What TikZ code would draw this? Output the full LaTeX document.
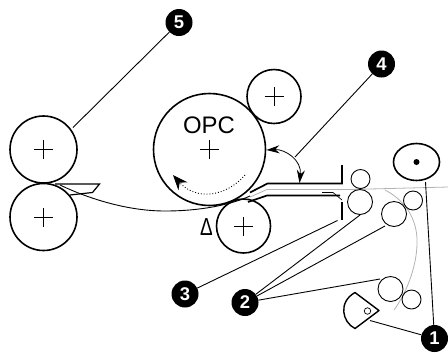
\documentclass[tikz,border=0pt]{standalone}
\usepackage{fontspec}
\setmainfont{Liberation Sans}
\usetikzlibrary{arrows.meta,shapes.geometric}
\tikzset{
  roller/.style={draw, circle, inner sep=0pt, outer sep=0pt, line width=1.6pt},
  idler/.style={draw, circle, inner sep=0pt, outer sep=0pt, line width=0.9pt},
  callout/.style={circle, fill=black, text=white, inner sep=0pt, minimum size=27bp, font=\fontsize{18.5}{18.5}\selectfont\bfseries},
  leader/.style={line width=0.9pt},
  paper/.style={line width=0.8pt, black!30},
  guide/.style={line width=1.7pt}
}
\begin{document}
\begin{tikzpicture}[x=1bp, y=-1bp]
\useasboundingbox (0,0) rectangle (448,352);
% rollers
\node[roller, minimum size=112bp] (opc) at (209.5,149.5) {};
\node[roller, minimum size=54bp] (charge) at (274,96.5) {};
\node[roller, minimum size=54bp] (transfer) at (243.5,226) {};
\node[roller, minimum size=67bp] (fuseup) at (43.5,149.5) {};
\node[roller, minimum size=67bp] (fusedown) at (43.5,217) {};
\node[font=\fontsize{24}{24}\selectfont] (opclabel) at (209,125) {OPC};
\foreach \c in {opc, charge, transfer, fuseup, fusedown}
    \draw[line width=0.8pt] ([xshift=-9.5bp]\c.center) -- ([xshift=9.5bp]\c.center)
        ([yshift=-9.5bp]\c.center) -- ([yshift=9.5bp]\c.center);
\node[yscale=1.3, font=\fontsize{19}{19}\selectfont] (delta) at (206.5,227) {Δ};
% paper path
\draw[paper] (250,197) -- (267,189.5) -- (350,189.5) -- (448,187);
\draw[paper] (385,190) .. controls (410,203) and (418,225) .. (417,245)
    .. controls (416,270) and (405,295) .. (394,310);
\draw[line width=0.9pt] (60,185) .. controls (85,197) and (125,211) .. (165,211)
    .. controls (200,211) and (230,205) .. (250,196);
% guides
\draw[guide] (250,192.5) -- (267.5,183.5) -- (342,183.5) -- (342,165);
\draw[guide] (248,202) -- (267,195.5) -- (340,195.5);
\draw[guide] (342,202) -- (342,220);
\draw[line width=0.7pt] (322,192.5) -- (333,192.5) -- (342,200);
\draw[line width=1.2pt] (55,184) -- (99.5,184) -- (92.5,192.5) -- (70,195);
% feed rollers
\node[idler, minimum size=19bp] (feeda) at (360.5,179) {};
\node[idler, minimum size=25bp] (feedb) at (360,202) {};
\node[idler, minimum size=25bp] (feedc) at (394,214) {};
\node[idler, minimum size=19bp] (feedd) at (413,200.5) {};
\node[idler, minimum size=25bp] (feede) at (390.5,289) {};
\node[idler, minimum size=19bp] (feedf) at (411.5,299.5) {};
% pickup
\node[draw, ellipse, inner sep=0pt, line width=1.6pt, minimum width=46bp, minimum height=37bp] (pickup) at (416.5,162) {};
\fill (pickup.center) circle (3bp);
\draw[line width=1.4pt, line join=round] (355,292.5) -- (379,310.5) -- (355,328.5)
    .. controls (342,322) and (338,302) .. (355,292.5) -- cycle;
\node[idler, minimum size=6.5bp, line width=0.7pt] (cam) at (367.5,311) {};
% rotation and angle
\draw[dotted, line width=0.9pt, -{Stealth[length=15bp, width=12bp]}] (245,175)
    .. controls (225,198) and (195,200) .. (173,175);
\coordinate (angleA) at (266.5,150);
\coordinate (angleB) at (299.5,183);
\draw[line width=0.8pt, {Stealth[length=13bp, width=8bp]}-{Stealth[length=13bp, width=8bp]}] (angleA)
    .. controls (285,149) and (302,160) .. (angleB);
% callouts
\node[callout] (one) at (434.5,338.5) {1};
\node[callout] (two) at (245,302.5) {2};
\node[callout] (three) at (185,294) {3};
\node[callout] (four) at (381.5,64) {4};
\node[callout] (five) at (179,22.5) {5};
\coordinate (endone) at (425.5,182);
\coordinate (endcam) at (370,320.5);
\coordinate (endthree) at (337.5,220.5);
\coordinate (endfeedb) at (360,215);
\coordinate (endfeedc) at (385,226);
\coordinate (endfeede) at (380,279);
\coordinate (endfour) at (295,157);
\coordinate (endfive) at (73,127.5);
\draw[leader] (one) -- (endone);
\draw[leader] (one) -- (endcam);
\draw[leader] (two) -- (endfeedb);
\draw[leader] (two) -- (endfeedc);
\draw[leader] (two) -- (endfeede);
\draw[leader] (three) -- (endthree);
\draw[leader] (four) -- (endfour);
\draw[leader] (five) -- (endfive);
\end{tikzpicture}
\end{document}
